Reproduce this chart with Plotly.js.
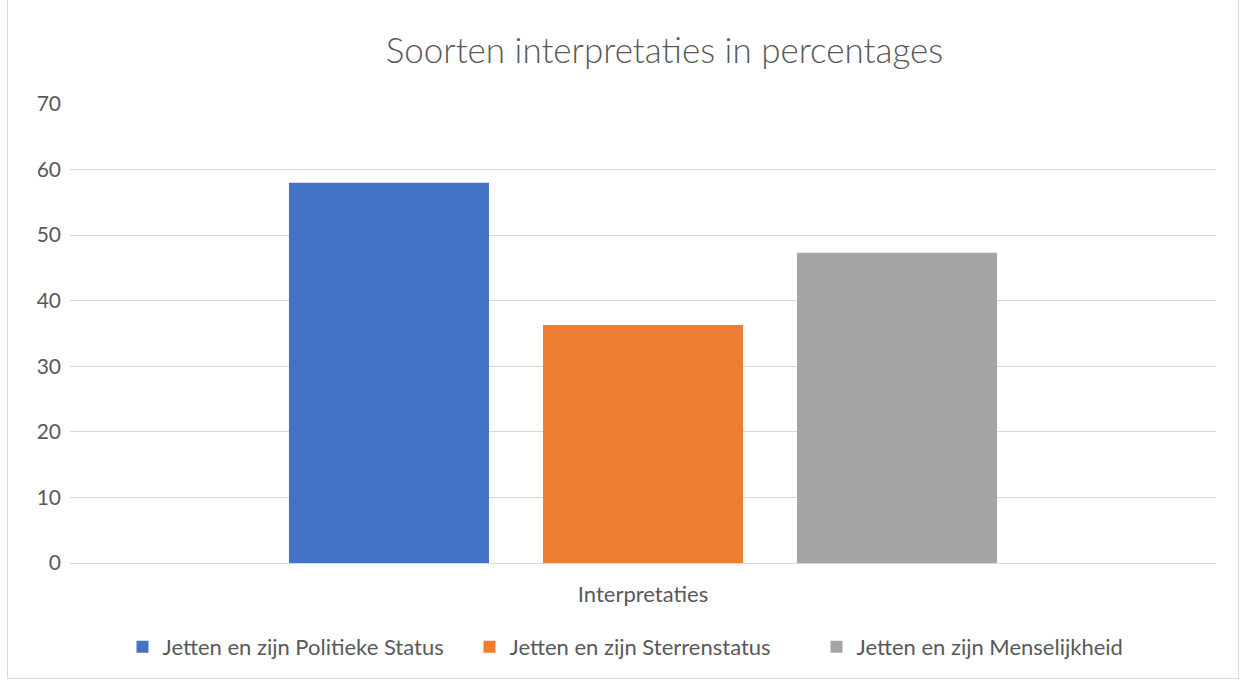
<!DOCTYPE html>
<html>
<head>
<meta charset="utf-8">
<script src="https://cdn.plot.ly/plotly-3.0.1.min.js"></script>
<style>
html,body{margin:0;padding:0;background:#fff;}
#chart{width:1242px;height:680px;position:absolute;left:0;top:0;}
#frame{position:absolute;left:7px;top:-1px;width:1230px;height:678px;border:1px solid #d9d9d9;pointer-events:none;}
</style>
</head>
<body>
<div id="chart"></div>
<div id="frame"></div>
<script>
const categories = ["Interpretaties"];
const seriesNames = ["Jetten en zijn Politieke Status", "Jetten en zijn Sterrenstatus", "Jetten en zijn Menselijkheid"];
const politiekeStatus = [58];
const sterrenstatus = [36.3];
const menselijkheid = [47.3];
const colors = ["#4472c4", "#ed7d31", "#a5a5a5"];
const seriesValues = [politiekeStatus, sterrenstatus, menselijkheid];

const fontFam = "Lato, 'Open Sans', sans-serif";
const traces = seriesValues.map((vals, i) => ({
  type: "bar",
  name: seriesNames[i],
  x: categories,
  y: vals,
  marker: {color: colors[i]},
  hoverinfo: "y+name"
}));

const layout = {
  width: 1242, height: 680,
  margin: {l: 70, r: 26, t: 104, b: 117, autoexpand: false},
  paper_bgcolor: "#fff", plot_bgcolor: "#fff",
  font: {family: fontFam, color: "#595959", size: 20},
  title: {text: "Soorten interpretaties in percentages", font: {size: 35, color: "#595959", family: fontFam, weight: 300}, x: 0.535, xanchor: "center", y: 0.925, yanchor: "middle"},
  barmode: "group",
  bargap: 0.335,
  bargroupgap: 0.2126,
  xaxis: {
    showticklabels: false, showgrid: false, zeroline: false, automargin: false,
    showline: true, linecolor: "#d9d9d9", linewidth: 1,
    title: {text: "Interpretaties", font: {size: 22, color: "#595959"}, standoff: 23}
  },
  yaxis: {
    range: [0, 70], dtick: 10, tick0: 0, automargin: false,
    showgrid: true, gridcolor: "#d9d9d9", gridwidth: 1,
    zeroline: false, showline: false,
    ticks: "", ticklabelstandoff: 8,
    tickfont: {size: 21, color: "#595959"}
  },
  legend: {
    orientation: "h", x: 0.5, xanchor: "center", y: -0.137, yanchor: "top",
    font: {size: 22, color: "#595959"}, itemwidth: 30, traceorder: "normal",
    entrywidth: 302, entrywidthmode: "pixels"
  },
  showlegend: true
};

Plotly.newPlot("chart", traces, layout, {displayModeBar: false, staticPlot: true});
</script>
</body>
</html>
